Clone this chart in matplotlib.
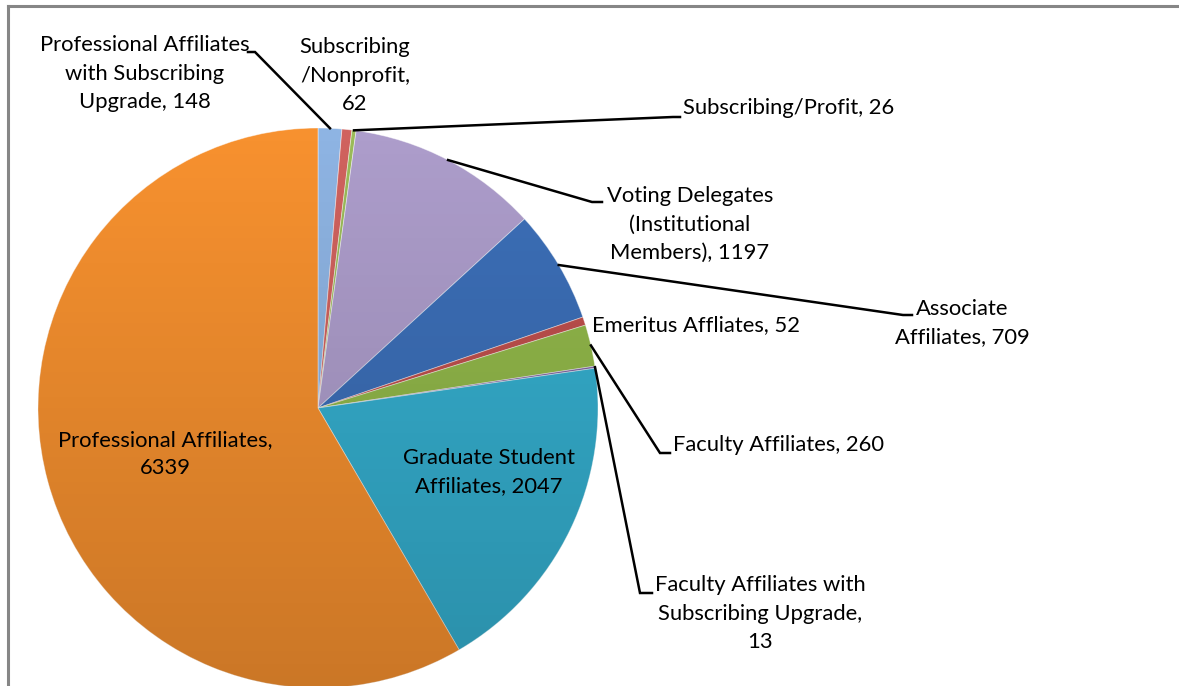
import matplotlib
matplotlib.use("Agg")
import matplotlib.pyplot as plt
import numpy as np
from matplotlib.patches import Circle
from matplotlib.lines import Line2D

# slices, clockwise from 12 o'clock
labels = ["Professional Affiliates\nwith Subscribing\nUpgrade, 148",
          "Subscribing\n/Nonprofit,\n62",
          "Subscribing/Profit, 26",
          "Voting Delegates\n(Institutional\nMembers), 1197",
          "Associate\nAffiliates, 709",
          "Emeritus Affliates, 52",
          "Faculty Affiliates, 260",
          "Faculty Affiliates with\nSubscribing Upgrade,\n13",
          "Graduate Student\nAffiliates, 2047",
          "Professional Affiliates,\n6339"]
values = [148, 62, 26, 1197, 709, 52, 260, 13, 2047, 6339]
colors = ["#8EB4E3", "#D0625E", "#9BBB59", "#AD9DCB", "#3C6FB8",
          "#C0504D", "#92B84A", "#8064A2", "#35AFCF", "#F7912F"]

W, H = 1179, 686
plt.rcParams['font.family'] = ['Lato', 'DejaVu Sans']
fs = 15.8

fig = plt.figure(figsize=(W / 100, H / 100), dpi=100)
ax = fig.add_axes([0, 0, 1, 1])

cx, cy, r = 318, H - 408, 280
wedges, _ = ax.pie(values, colors=colors, startangle=90, counterclock=False,
                   radius=r, center=(cx, cy), frame=True,
                   wedgeprops=dict(linewidth=0.6, edgecolor="#ffffff80"))
ax.set_xlim(0, W)
ax.set_ylim(0, H)
ax.set_aspect('equal')
ax.axis('off')

# soft top-to-bottom shading over the pie
grad = np.linspace(0, 1, 256)[:, None]
shade = np.zeros((256, 1, 4))
shade[..., 3] = 0.18 * grad
img = ax.imshow(shade, extent=(cx - r, cx + r, cy - r, cy + r), origin='upper',
                aspect='auto', zorder=3)
img.set_clip_path(Circle((cx, cy), r, transform=ax.transData))

def pt(i, rr=r):
    a = np.deg2rad(90 - 360 * (sum(values[:i]) + values[i] / 2) / sum(values))
    return cx + rr * np.cos(a), cy + rr * np.sin(a)

# label layout: (x, y of first line centre, ha, leader corner, leader end)
layout = {
    0: (145, 45, 'center', (255, 52), (248, 52)),
    1: (355, 47, 'center', None, None),
    2: (683, 108, 'left', (673, 117), (680, 117)),
    3: (690, 196, 'center', (592, 202), (602, 202)),
    4: (962, 309, 'center', (903, 315), (912, 315)),
    5: (592, 325, 'left', None, None),
    6: (673, 445, 'left', (660, 453), (670, 453)),
    7: (760, 585, 'center', (640, 593), (652, 593)),
    8: (489, 458, 'center', None, None),
    9: (165, 440, 'center', None, None),
}
lh = 28.5
for i, (x, y, ha, corner, end) in layout.items():
    for k, line in enumerate(labels[i].split("\n")):
        ax.text(x, H - (y + k * lh), line, ha=ha, va='center', fontsize=fs,
                color='black', zorder=5)
    if corner is not None:
        x0, y0 = pt(i)
        ax.plot([x0, corner[0], end[0]], [y0, H - corner[1], H - end[1]],
                color='black', lw=1.8, zorder=4, solid_joinstyle='miter')

# chart frame (runs off the right and bottom of the picture)
fig.add_artist(Line2D([8 / W, 8 / W], [0, 1 - 6 / H], color='#868686', lw=2.2))
fig.add_artist(Line2D([8 / W, 1], [1 - 6 / H, 1 - 6 / H], color='#868686', lw=2.2))

fig.savefig("out.png", dpi=100)
